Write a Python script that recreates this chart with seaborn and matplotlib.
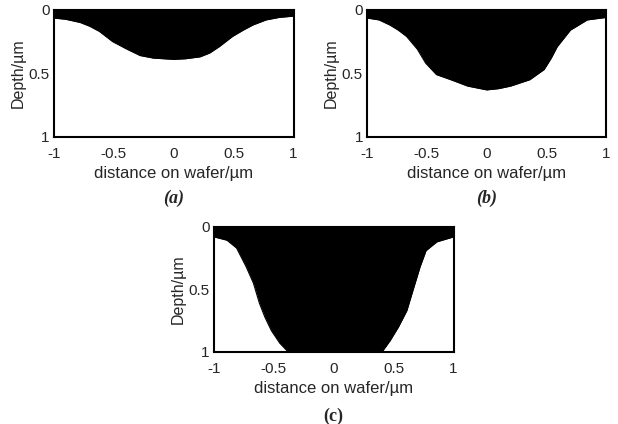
import matplotlib
matplotlib.use("Agg")
import matplotlib.pyplot as plt
import seaborn as sns
import pandas as pd

# profile (a): x position (um) and etched depth (um)
x_a = [-1.0, -0.9, -0.78, -0.7, -0.62, -0.51, -0.39, -0.28, -0.17, 0.0,
       0.1, 0.22, 0.3, 0.38, 0.49, 0.58, 0.66, 0.77, 0.88, 1.0]
depth_a = [0.065, 0.075, 0.10, 0.13, 0.17, 0.25, 0.31, 0.36, 0.38, 0.39,
           0.385, 0.37, 0.34, 0.29, 0.21, 0.16, 0.12, 0.08, 0.06, 0.05]

# profile (b)
x_b = [-1.0, -0.9, -0.81, -0.74, -0.67, -0.58, -0.51, -0.42, -0.3, -0.16, 0.0,
       0.1, 0.2, 0.36, 0.48, 0.54, 0.59, 0.7, 0.84, 1.0]
depth_b = [0.065, 0.08, 0.12, 0.16, 0.21, 0.31, 0.42, 0.51, 0.55, 0.60, 0.63,
           0.62, 0.60, 0.55, 0.47, 0.38, 0.29, 0.16, 0.08, 0.06]

# profile (c)
x_c = [-1.0, -0.89, -0.81, -0.73, -0.67, -0.62, -0.575, -0.52, -0.45, -0.38,
       0.0, 0.41, 0.47, 0.54, 0.61, 0.66, 0.72, 0.77, 0.86, 1.0]
depth_c = [0.08, 0.107, 0.17, 0.32, 0.45, 0.61, 0.72, 0.83, 0.93, 1.0,
           1.0, 0.99, 0.91, 0.80, 0.67, 0.51, 0.32, 0.19, 0.12, 0.08]

x_ticks = [-1, -0.5, 0, 0.5, 1]
x_tick_labels = ["-1", "-0.5", "0", "0.5", "1"]
y_ticks = [0, 0.5, 1]
y_tick_labels = ["0", "0.5", "1"]

sns.set_style("white")
plt.rcParams["font.family"] = ["Liberation Sans", "DejaVu Sans"]

fig = plt.figure(figsize=(6.18, 4.24), dpi=100)

# rect, caption, caption style, caption drop below axes
panels = [
    (x_a, depth_a, [0.087, 0.677, 0.388, 0.300], "(a)", "italic", 0.144),
    (x_b, depth_b, [0.594, 0.677, 0.387, 0.300], "(b)", "italic", 0.144),
    (x_c, depth_c, [0.346, 0.170, 0.388, 0.295], "(c)", "normal", 0.152),
]

for xs, ds, rect, tag, style, drop in panels:
    ax = fig.add_axes(rect)
    df = pd.DataFrame({"x": xs, "depth": ds})
    ax.fill_between(df["x"], 0, df["depth"], color="black", linewidth=0)
    sns.lineplot(data=df, x="x", y="depth", ax=ax, color="black", linewidth=0.8)
    ax.set_xlim(-1, 1)
    ax.set_ylim(1, 0)
    ax.set_xticks(x_ticks)
    ax.set_xticklabels(x_tick_labels, fontsize=11)
    ax.set_yticks(y_ticks)
    ax.set_yticklabels(y_tick_labels, fontsize=11)
    ax.tick_params(direction="in", length=3, width=1, color="black", pad=3)
    ax.tick_params(axis="x", pad=7)
    ax.set_xlabel("distance on wafer/µm", fontsize=12, labelpad=4)
    ax.set_ylabel("Depth/µm", fontsize=11.5, labelpad=2)
    for s in ax.spines.values():
        s.set_color("black")
        s.set_linewidth(1.5)
    # panel caption under the x label
    cx = rect[0] + rect[2] / 2
    cy = rect[1] - drop
    fig.text(cx, cy, tag, ha="center", va="center", fontsize=13,
             fontweight="bold", fontstyle=style, family="Liberation Serif")

fig.savefig("out.png", dpi=100)
